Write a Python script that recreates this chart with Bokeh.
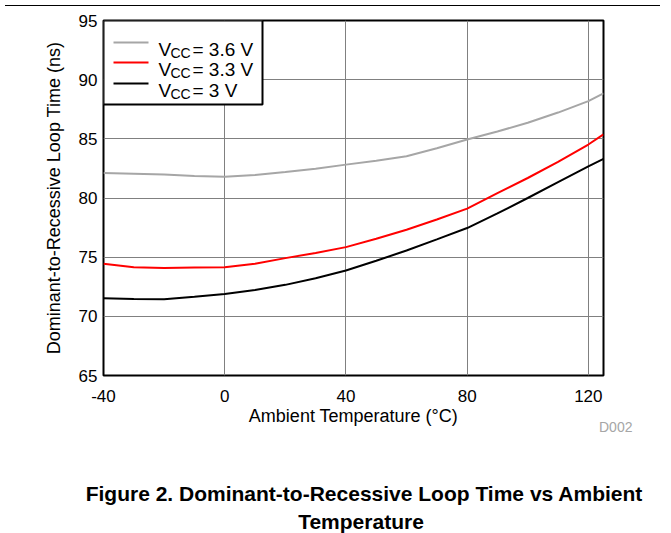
from bokeh.plotting import figure
from bokeh.models import FixedTicker, Div
from bokeh.layouts import column
from bokeh.core.properties import value
from bokeh.embed import file_html
from bokeh.resources import INLINE

# ---- data ----
temps = [-40, -30, -20, -10, 0, 10, 20, 30, 40, 50, 60, 70, 80, 90, 100, 110, 120, 125]
vcc36 = [82.12, 82.05, 81.98, 81.85, 81.80, 81.95, 82.20, 82.48, 82.82, 83.15, 83.53, 84.20,
         84.94, 85.62, 86.36, 87.22, 88.19, 88.85]
vcc33 = [74.44, 74.15, 74.08, 74.12, 74.15, 74.45, 74.92, 75.35, 75.85, 76.55, 77.32, 78.18,
         79.10, 80.42, 81.69, 83.05, 84.52, 85.37]
vcc30 = [71.53, 71.47, 71.45, 71.65, 71.89, 72.22, 72.66, 73.22, 73.87, 74.70, 75.56, 76.50,
         77.46, 78.70, 80.00, 81.35, 82.68, 83.30]
series_names = ["3.6 V", "3.3 V", "3 V"]
series_colors = ["#a6a6a6", "#ff0000", "#000000"]
x_ticks = [-40, 0, 40, 80, 120]
y_ticks = [65, 70, 75, 80, 85, 90, 95]
x_label = "Ambient Temperature (°C)"
y_label = "Dominant-to-Recessive Loop Time (ns)"
caption1 = "Figure 2. Dominant-to-Recessive Loop Time vs Ambient"
caption2 = "Temperature"
code_text = "D002"

FONT = "Liberation Sans"
X0, X1 = -40, 125
Y0, Y1 = 65, 95
FW, FH = 500, 355
W = 655
ML, MT, MB = 103, 9, 51
MR = W - ML - FW
DIV_H = 90


def px_x(px):
    return X0 + px * (X1 - X0) / FW


def px_y(py):
    return Y1 - py * (Y1 - Y0) / FH


p = figure(frame_width=FW, frame_height=FH, x_range=(X0, X1), y_range=(Y0, Y1),
           output_backend="svg", toolbar_location=None,
           min_border_left=ML, min_border_top=MT, min_border_right=MR, min_border_bottom=MB)
p.background_fill_color = "white"
p.border_fill_color = "white"
p.outline_line_color = "black"
p.outline_line_width = 2

p.xaxis.ticker = FixedTicker(ticks=x_ticks)
p.yaxis.ticker = FixedTicker(ticks=y_ticks)
p.xgrid.ticker = FixedTicker(ticks=x_ticks)
p.ygrid.ticker = FixedTicker(ticks=y_ticks)
p.xaxis.major_label_overrides = {t: str(t) for t in x_ticks}
for g in (p.xgrid, p.ygrid):
    g.grid_line_color = "#808080"
    g.grid_line_width = 1

for ax in (p.xaxis, p.yaxis):
    ax.axis_line_color = None
    ax.major_tick_line_color = None
    ax.minor_tick_line_color = None
    ax.major_tick_out = 0
    ax.major_tick_in = 0
    ax.minor_tick_out = 0
    ax.minor_tick_in = 0
    ax.major_label_text_font = FONT
    ax.major_label_text_font_size = "17px"
    ax.major_label_text_color = "black"
    ax.axis_label_text_font = FONT
    ax.axis_label_text_font_size = "18px"
    ax.axis_label_text_font_style = "normal"
    ax.axis_label_text_color = "black"

p.xaxis.axis_label = x_label
p.yaxis.axis_label = y_label
p.xaxis.major_label_standoff = 14
p.xaxis.axis_label_standoff = 1
p.yaxis.major_label_standoff = 6
p.yaxis.axis_label_standoff = 12

for ys, c in zip([vcc36, vcc33, vcc30], series_colors):
    p.line(temps, ys, line_color=c, line_width=2)

# legend box (drawn manually to allow the subscript)
p.quad(left=[px_x(0)], right=[px_x(159)], top=[px_y(0)], bottom=[px_y(84)],
       fill_color="white", line_color="black", line_width=2)
legend_rows = [22, 42, 63]
for ly, name, c in zip(legend_rows, series_names, series_colors):
    p.segment(x0=[px_x(10)], x1=[px_x(45)], y0=[px_y(ly)], y1=[px_y(ly)],
              line_color=c, line_width=2)
    p.text(x=[px_x(55)], y=[px_y(ly + 6.8)], text=["V"], text_font=value(FONT),
           text_font_size="19px", text_baseline="alphabetic", text_align="left", text_color="black")
    p.text(x=[px_x(67)], y=[px_y(ly + 10.8)], text=["CC"], text_font=value(FONT),
           text_font_size="14px", text_baseline="alphabetic", text_align="left", text_color="black")
    p.text(x=[px_x(89)], y=[px_y(ly + 6.8)], text=["= " + name], text_font=value(FONT),
           text_font_size="19px", text_baseline="alphabetic", text_align="left", text_color="black")

# caption strip below the chart (HTML text)
font_css = "font-family:'Liberation Sans',Arial,sans-serif;"
cap_css = ("position:absolute;width:600px;text-align:center;font-size:21px;line-height:21px;"
           "font-weight:bold;color:#000;white-space:nowrap;")
caption_html = (
    f'<div style="position:relative;width:{W}px;height:{DIV_H}px;overflow:visible;{font_css}">'
    f'<span style="position:absolute;left:594px;top:-13px;font-size:14px;line-height:14px;'
    f'color:#a6a6a6;white-space:nowrap;">{code_text}</span>'
    f'<div style="{cap_css}left:59px;top:50px;">{caption1}</div>'
    f'<div style="{cap_css}left:56px;top:78px;">{caption2}</div>'
    f'</div>'
)
caption_div = Div(text=caption_html, width=W, height=DIV_H, styles={"overflow": "visible"})

rule = Div(width=W, height=1, styles={"background-color": "black"})
layout = column(rule, p, caption_div, spacing=0)

open("out.html", "w").write(file_html(layout, INLINE))
